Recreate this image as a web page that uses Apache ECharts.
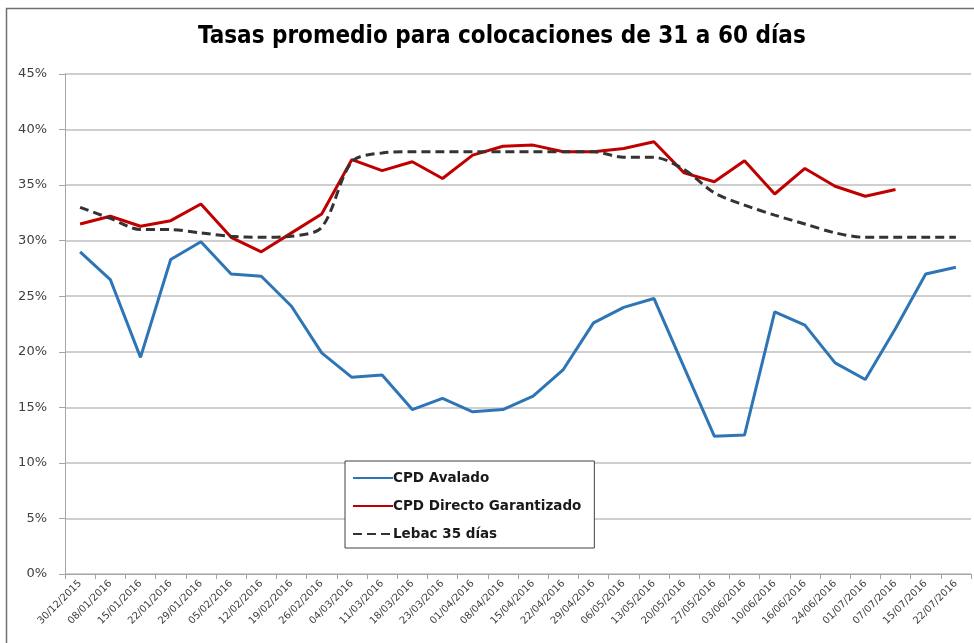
<!DOCTYPE html>
<html>
<head>
<meta charset="utf-8">
<script src="https://cdn.jsdelivr.net/npm/echarts@6/dist/echarts.min.js"></script>
<style>
html,body{margin:0;padding:0;background:#fff;}
#chart{width:974px;height:643px;}
</style>
</head>
<body>
<div id="chart"></div>
<script>
const categories = ["30/12/2015","08/01/2016","15/01/2016","22/01/2016","29/01/2016","05/02/2016","12/02/2016","19/02/2016","26/02/2016","04/03/2016","11/03/2016","18/03/2016","23/03/2016","01/04/2016","08/04/2016","15/04/2016","22/04/2016","29/04/2016","06/05/2016","13/05/2016","20/05/2016","27/05/2016","03/06/2016","10/06/2016","16/06/2016","24/06/2016","01/07/2016","07/07/2016","15/07/2016","22/07/2016"];
const cpdAvalado = [29.0,26.5,19.5,28.3,29.9,27.0,26.8,24.1,19.9,17.7,17.9,14.8,15.8,14.6,14.8,16.0,18.4,22.6,24.0,24.8,18.6,12.4,12.5,23.6,22.4,19.0,17.5,22.1,27.0,27.6];
const cpdDirecto = [31.5,32.2,31.3,31.8,33.3,30.3,29.0,30.7,32.4,37.3,36.3,37.1,35.6,37.7,38.5,38.6,38.0,38.0,38.3,38.9,36.1,35.3,37.2,34.2,36.5,34.9,34.0,34.6,null,null];
const lebac35 = [33.0,32.0,31.0,31.0,30.7,30.4,30.3,30.4,31.2,37.1,37.9,38.0,38.0,38.0,38.0,38.0,38.0,38.0,37.5,37.5,36.4,34.3,33.2,32.3,31.5,30.7,30.3,30.3,30.3,30.3];
const yTicks = {min:0, max:45, interval:5};

const chart = echarts.init(document.getElementById('chart'), null, {renderer:'canvas'});
chart.setOption({
  animation:false,
  backgroundColor:'#fff',
  title:{
    text:'Tasas promedio para colocaciones de 31 a 60 días',
    left:193, top:20,
    textStyle:{fontFamily:'DejaVu Sans Condensed', fontWeight:'bold', fontSize:24, color:'#000'}
  },
  graphic:[{type:'rect', shape:{x:6.5,y:8.5,width:1000,height:700}, style:{fill:'none', stroke:'#6f6f6f', lineWidth:1.5}, silent:true}],
  grid:{left:65, right:3, top:74, bottom:69, containLabel:false},
  legend:{
    orient:'vertical', left:345, top:461,
    backgroundColor:'#fff', borderColor:'#404040', borderWidth:1,
    padding:[10,13,7,7], itemGap:14, itemWidth:40, itemHeight:14,
    itemStyle:{opacity:0},
    textStyle:{fontFamily:'DejaVu Sans', fontWeight:'bold', fontSize:13.5, color:'#1a1a1a', padding:[0,0,0,-5]},
    data:['CPD Avalado','CPD Directo Garantizado','Lebac 35 días']
  },
  xAxis:{
    type:'category', data:categories, boundaryGap:true,
    axisLine:{lineStyle:{color:'#a6a6a6', width:1}},
    axisTick:{show:true, length:5, lineStyle:{color:'#a6a6a6'}},
    axisLabel:{rotate:45, fontFamily:'DejaVu Sans', fontSize:10, color:'#404040', interval:0, margin:8}
  },
  yAxis:{
    type:'value', min:yTicks.min, max:yTicks.max, interval:yTicks.interval,
    axisLine:{show:true, lineStyle:{color:'#a6a6a6'}},
    axisTick:{show:true, length:6, lineStyle:{color:'#a6a6a6'}},
    splitLine:{lineStyle:{color:'#bfbfbf', width:1.5}},
    axisLabel:{formatter:'{value}%', fontFamily:'DejaVu Sans', fontSize:13, color:'#404040', margin:18}
  },
  series:[
    {name:'CPD Avalado', type:'line', data:cpdAvalado, symbol:'none', color:'#2e75b6', lineStyle:{color:'#2e75b6', width:3}},
    {name:'CPD Directo Garantizado', type:'line', data:cpdDirecto, symbol:'none', color:'#c00000', lineStyle:{color:'#c00000', width:3}},
    {name:'Lebac 35 días', type:'line', data:lebac35, symbol:'none', smooth:0.3, color:'#333', lineStyle:{color:'#333333', width:3, type:[9,5]}}
  ]
});
</script>
</body>
</html>
